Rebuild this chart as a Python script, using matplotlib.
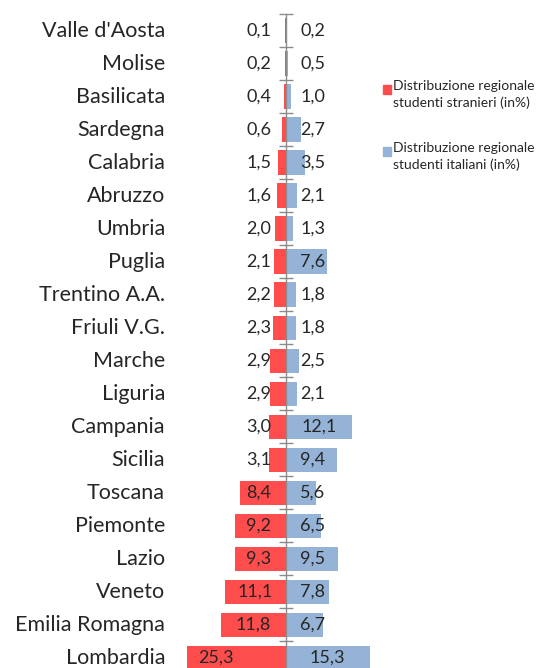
import matplotlib
matplotlib.use("Agg")
import matplotlib.pyplot as plt
from matplotlib.patches import Rectangle
import matplotlib.transforms as mtransforms

regions = ["Valle d'Aosta", "Molise", "Basilicata", "Sardegna", "Calabria", "Abruzzo",
           "Umbria", "Puglia", "Trentino A.A.", "Friuli V.G.", "Marche", "Liguria",
           "Campania", "Sicilia", "Toscana", "Piemonte", "Lazio", "Veneto",
           "Emilia Romagna", "Lombardia"]
stranieri = [0.1, 0.2, 0.4, 0.6, 1.5, 1.6, 2.0, 2.1, 2.2, 2.3, 2.9, 2.9, 3.0, 3.1,
             8.4, 9.2, 9.3, 11.1, 11.8, 25.3]
italiani = [0.2, 0.5, 1.0, 2.7, 3.5, 2.1, 1.3, 7.6, 1.8, 1.8, 2.5, 2.1, 12.1, 9.4,
            5.6, 6.5, 9.5, 7.8, 6.7, 15.3]
legend_labels = ["Distribuzione regionale\nstudenti stranieri (in%)",
                 "Distribuzione regionale\nstudenti italiani (in%)"]

RED = "#FF4D4D"
BLUE = "#95B3D7"
TXT = "#262626"
FONT = "Lato"

W, H = 542, 668
fig = plt.figure(figsize=(W / 100, H / 100), dpi=100)
fig.patch.set_facecolor("white")

left_px, right_px = 187, 384.5
top_px, bot_px = 14, 674.5
ax = fig.add_axes([left_px / W, 1 - bot_px / H, (right_px - left_px) / W, (bot_px - top_px) / H])
ax.set_xlim(-18, 18)
n = len(regions)
ax.set_ylim(n - 0.5, -0.5)

ypos = list(range(n))
ax.barh(ypos, [-v for v in stranieri], height=0.74, color=RED, zorder=2)
ax.barh(ypos, italiani, height=0.74, color=BLUE, zorder=2)

for s in ["top", "right", "bottom"]:
    ax.spines[s].set_visible(False)
ax.spines["left"].set_position(("data", 0))
ax.spines["left"].set_color("#8C8C8C")
ax.spines["left"].set_linewidth(1.0)
ax.spines["left"].set_zorder(3)
ax.spines["left"].set_bounds(-0.5, n - 0.5)
ax.set_xticks([])
ax.set_yticks([])
ax.set_yticks([i - 0.5 for i in range(n + 1)], minor=True)
ax.tick_params(axis="y", which="minor", direction="inout", length=10.5,
               color="#8C8C8C", width=1.0)
ax.tick_params(axis="y", which="major", length=0)

c0 = 4.9
for i, (r, s, it) in enumerate(zip(regions, stranieri, italiani)):
    xs = -max(s / 2, c0)
    xi = max(it / 2, c0)
    ax.text(xs, i, f"{s:.1f}".replace(".", ","), ha="center", va="center",
            fontsize=13, family=FONT, color=TXT, zorder=4)
    ax.text(xi, i, f"{it:.1f}".replace(".", ","), ha="center", va="center",
            fontsize=13, family=FONT, color=TXT, zorder=4)

trans = mtransforms.blended_transform_factory(
    fig.transFigure, ax.transData)
for i, r in enumerate(regions):
    ax.text(165 / W, i, r, transform=trans, ha="right", va="center",
            fontsize=15.5, family=FONT, color=TXT)

# legend drawn manually
for k, (lab, col) in enumerate(zip(legend_labels, [RED, BLUE])):
    ytop = 85 + k * 62
    fig.patches.append(Rectangle((383 / W, 1 - (ytop + 9) / H), 8 / W, 9 / H,
                                 transform=fig.transFigure, color=col))
    fig.text(393 / W, 1 - (ytop - 5) / H, lab, ha="left", va="top",
             fontsize=10, family=FONT, color=TXT, linespacing=1.45)

fig.savefig("out.png", dpi=100)
